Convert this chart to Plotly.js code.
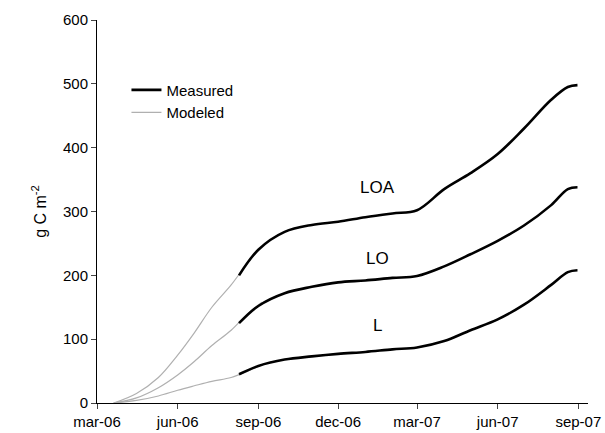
<!DOCTYPE html>
<html><head><script src="https://cdn.plot.ly/plotly-3.0.1.min.js"></script></head>
<body style="margin:0"><div id="plot" style="width:605px;height:433px"></div>
<script>
const modDates = ["2006-03-20","2006-04-15","2006-05-10","2006-06-01","2006-06-20","2006-07-10","2006-08-01","2006-08-20","2006-09-05"];
const modLOA = [0, 15, 40, 75, 110, 150, 185, 220, 245];
const modLO = [0, 8, 24, 44, 65, 90, 114, 140, 158];
const modL = [0, 4, 11, 20, 27, 34, 40, 50, 60];

const measDates = ["2006-08-10","2006-09-01","2006-10-01","2006-11-01","2006-12-01","2007-01-01","2007-02-01","2007-03-01","2007-04-01","2007-05-01","2007-06-01","2007-07-01","2007-08-01","2007-08-20","2007-08-31"];
const measLOA = [200, 240, 268, 279, 284, 291, 297, 302, 335, 360, 390, 430, 475, 495, 498];
const measLO = [125, 152, 172, 182, 189, 192, 196, 199, 214, 233, 254, 278, 310, 335, 338];
const measL = [45, 58, 68, 73, 77, 80, 84, 87, 97, 114, 131, 154, 185, 205, 208];

const traces = [];
[modLOA, modLO, modL].forEach((ys, i) => {
  traces.push({x: modDates, y: ys, type: "scatter", mode: "lines",
    line: {color: "#b0b0b0", width: 1.2, shape: "spline"}, name: "Modeled", showlegend: i == 0, legendrank: 2});
});
[measLOA, measLO, measL].forEach((ys, i) => {
  traces.push({x: measDates, y: ys, type: "scatter", mode: "lines",
    line: {color: "black", width: 2.6, shape: "spline"}, name: "Measured", showlegend: i == 0, legendrank: 1});
});

const layout = {
  margin: {l: 97, r: 17, t: 20, b: 30},
  paper_bgcolor: "white", plot_bgcolor: "white",
  font: {family: "Arial, Liberation Sans", size: 15, color: "black"},
  showlegend: true,
  legend: {x: 0.06, y: 0.86, bgcolor: "rgba(0,0,0,0)", font: {size: 15}, tracegroupgap: 12},
  xaxis: {type: "date", range: ["2006-03-01", "2007-09-12"], showgrid: false, zeroline: false,
    showline: true, linecolor: "black", ticks: "outside", ticklen: 5,
    tickvals: ["2006-03-01","2006-06-01","2006-09-01","2006-12-01","2007-03-01","2007-06-01","2007-09-01"],
    ticktext: ["mar-06","jun-06","sep-06","dec-06","mar-07","jun-07","sep-07"]},
  yaxis: {range: [0, 600], dtick: 100, showgrid: false, zeroline: false,
    showline: true, linecolor: "black", ticks: "outside", ticklen: 5,
    title: {text: "g C m<sup>-2</sup>", font: {size: 16}, standoff: 12}},
  annotations: [
    {x: "2007-01-15", y: 337, text: "LOA", showarrow: false, font: {size: 17}},
    {x: "2007-01-15", y: 227, text: "LO", showarrow: false, font: {size: 17}},
    {x: "2007-01-15", y: 122, text: "L", showarrow: false, font: {size: 17}}
  ]
};
Plotly.newPlot("plot", traces, layout, {displayModeBar: false});
</script></body></html>
